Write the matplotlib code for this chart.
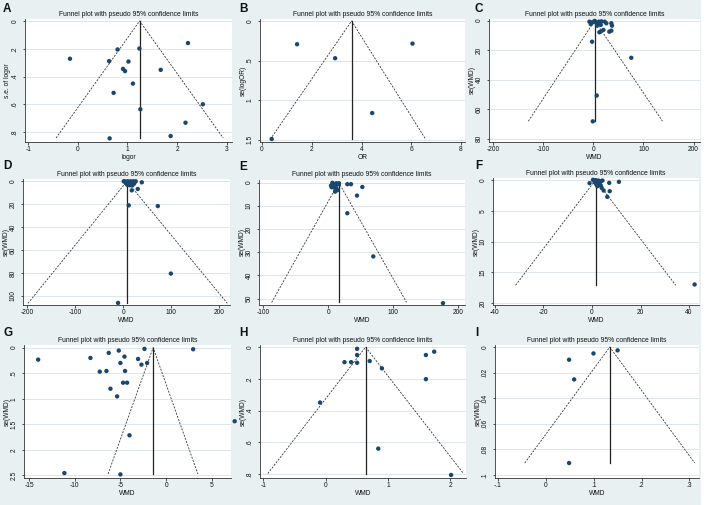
import matplotlib
matplotlib.use("Agg")
import matplotlib.pyplot as plt

plt.rcParams["font.family"] = ["Liberation Sans", "DejaVu Sans"]

W, H = 708, 505
BG = "#e8f0f2"
NAVY = "#1a476f"
GRID = "#dce6ea"

TITLE = "Funnel plot with pseudo 95% confidence limits"

# ---- data ----
a_x = [-0.16, 0.63, 0.80, 1.02, 1.24, 2.22, 0.91, 0.95, 1.67, 1.11, 0.72, 1.26, 2.52, 2.17, 1.87, 0.64]
a_se = [0.272, 0.289, 0.205, 0.292, 0.198, 0.159, 0.345, 0.361, 0.352, 0.451, 0.518, 0.636, 0.600, 0.733, 0.829, 0.846]
a_funnel = [1.245, 0.843, -0.44, 2.93]  # centre, se max, lower end, upper end

b_x = [0.39, 1.41, 2.94, 6.05, 4.43]
b_se = [1.492, 0.294, 0.471, 0.286, 1.164]
b_funnel = [3.6, 1.496, 0.334, 6.58]

c_x = [-8.0, -4.0, -1.3, 2.7, 5.3, 8.0, 10.6, 13.3, 15.9, 7.3, 14.6, 25.9, 35.8, 37.1, 13.9,
       11.9, 19.9, 31.8, 35.8, -2.7, 75.6, 6.6, -1.3, 22.6, -5.3]
c_se = [0.7, 1.8, 0.9, 0.2, 1.4, 2.3, 0.7, 1.8, 0.5, 3.4, 2.9, 1.8, 1.8, 3.4, 7.5,
        7.9, 6.3, 7.5, 6.8, 14.3, 25.2, 50.8, 68.3, 0.7, 2.3]
c_funnel = [2.6, 68.2, -130.0, 138.0]

d_x = [3.5, 7.0, 9.7, 12.5, 15.3, 18.1, 20.9, 23.7, 5.6, 11.1, 13.9, 19.5, 23.0, 39.0, 18.1,
       30.6, 11.8, 72.3, 99.5, -10.4, 1.4, 26.4, 8.3]
d_se = [0.0, 0.6, 0.0, 0.9, 0.0, 1.5, 0.0, 0.6, 1.5, 2.3, 3.5, 3.5, 2.0, 0.9, 7.9,
        6.7, 21.0, 21.6, 80.5, 106.1, 0.0, 0.0, 2.9]
d_funnel = [8.0, 106.4, -197.9, 217.0]

e_x = [6.2, 10.3, 12.3, 14.4, 16.4, 4.1, 6.2, 9.2, 12.3, 10.3, 13.8, 29.2, 34.9, 52.3, 44.1,
       29.2, 69.2, 176.4, 5.1, 15.9, 11.3]
e_se = [0.1, 0.6, 0.3, 0.7, 0.3, 1.3, 1.7, 2.2, 2.4, 3.9, 3.3, 0.7, 0.7, 1.9, 5.6,
        13.2, 31.8, 51.9, 2.0, 0.6, 1.1]
e_funnel = [16.0, 51.6, -87.2, 120.5]

f_x = [-1.0, 0.4, 1.0, 1.5, 2.1, 2.6, 3.2, 3.7, 4.3, 1.8, 2.6, 3.6, 4.0, 4.8, 7.1,
       11.1, 7.3, 6.3, 42.3, 1.2, 2.9, 2.2]
f_se = [0.54, 0.0, 0.22, 0.05, 0.32, 0.11, 0.43, 0.22, 0.11, 0.76, 0.59, 0.92, 1.30, 1.73, 0.49,
        0.32, 1.84, 2.76, 16.97, 0.43, 0.22, 1.03]
f_funnel = [1.5, 17.1, -31.5, 34.5]

g_x = [-14.0, -8.28, -6.28, -5.18, -4.56, -5.0, -2.37, -3.07, -2.08, -2.70, -7.26, -6.53, -4.49,
       -6.09, -4.27, -4.71, -5.36, -4.01, 2.96, 7.5, -11.13, -5.0]
g_se = [0.236, 0.203, 0.105, 0.059, 0.177, 0.301, 0.026, 0.223, 0.301, 0.334, 0.471, 0.458, 0.458,
        0.805, 0.687, 0.687, 0.955, 1.715, 0.033, 1.44, 2.454, 2.48]
g_funnel = [-1.42, 2.47, -6.35, 3.47]

h_x = [0.504, 0.504, 0.302, 0.408, 0.504, 0.706, 0.902, 1.607, 1.740, 1.607, -0.090, 0.843, 2.011]
h_se = [0.011, 0.050, 0.095, 0.095, 0.099, 0.088, 0.134, 0.050, 0.029, 0.202, 0.349, 0.639, 0.805]
h_funnel = [0.64, 0.796, -0.928, 2.21]

i_x = [0.0487, 0.0996, 0.150, 0.0592, 0.0487]
i_se = [0.0099, 0.0050, 0.0026, 0.0253, 0.0906]
i_funnel = [0.1336, 0.0906, -0.0439, 0.311]

xticks = {
    "A": [-1, 0, 1, 2, 3], "B": [0, 2, 4, 6, 8], "C": [-200, -100, 0, 100, 200],
    "D": [-200, -100, 0, 100, 200], "E": [-100, 0, 100, 200], "F": [-40, -20, 0, 20, 40],
    "G": [-15, -10, -5, 0, 5], "H": [-1, 0, 1, 2], "I": [-0.1, 0, 0.1, 0.2, 0.3],
}
yticks = {
    "A": [0, 0.2, 0.4, 0.6, 0.8], "B": [0, 0.5, 1, 1.5], "C": [0, 20, 40, 60, 80],
    "D": [0, 20, 40, 60, 80, 100], "E": [0, 10, 20, 30, 40, 50], "F": [0, 5, 10, 15, 20],
    "G": [0, 0.5, 1, 1.5, 2, 2.5], "H": [0, 0.2, 0.4, 0.6, 0.8],
    "I": [0, 0.02, 0.04, 0.06, 0.08, 0.1],
}
xlabels = {"A": "logor", "B": "OR"}
ylabels = {"A": "s.e. of logor", "B": "se(logOR)"}

panels = {
    "A": (a_x, a_se, a_funnel), "B": (b_x, b_se, b_funnel), "C": (c_x, c_se, c_funnel),
    "D": (d_x, d_se, d_funnel), "E": (e_x, e_se, e_funnel), "F": (f_x, f_se, f_funnel),
    "G": (g_x, g_se, g_funnel), "H": (h_x, h_se, h_funnel), "I": (i_x, i_se, i_funnel),
}

# ---- layout (pixels: left, top, right, bottom) and axis ranges ----
boxes = {
    "A": (25, 19, 232, 142), "B": (260, 19, 465, 142), "C": (489, 19, 700, 142),
    "D": (23, 179, 230, 305), "E": (259, 180, 465, 305), "F": (493, 178, 699, 305),
    "G": (24, 345, 231, 478), "H": (260, 345, 466, 478), "I": (495, 345, 699, 478),
}
xlims = {
    "A": (-1.067, 3.108), "B": (-0.08, 8.16), "C": (-208.6, 212.9), "D": (-208.3, 222.6),
    "E": (-106.7, 210.3), "F": (-40.8, 44.1), "G": (-15.55, 7.1), "H": (-1.053, 2.25),
    "I": (-0.106, 0.320),
}
ylims = {
    "A": (0.872, -0.0145), "B": (1.53, -0.025), "C": (82.3, -1.1), "D": (107.9, -2.0),
    "E": (52.7, -1.1), "F": (20.3, -0.3), "G": (2.55, -0.05), "H": (0.824, -0.013),
    "I": (0.1023, -0.0016),
}
letter_top = {"A": 3, "B": 3, "C": 3, "D": 160, "E": 161, "F": 160, "G": 327, "H": 327, "I": 327}
letter_left = {"A": 3, "B": 239, "C": 475, "D": 3, "E": 239, "F": 475, "G": 3, "H": 239, "I": 475}


def stata_fmt(v):
    s = f"{v:g}"
    s = s.replace("-0.", "-.")
    if s.startswith("0."):
        s = s[1:]
    return s


fig = plt.figure(figsize=(W / 100, H / 100), dpi=100, facecolor=BG)
fig.patches.append(plt.Rectangle((701 / W, 0), 7 / W, 1, transform=fig.transFigure,
                                 facecolor="white", edgecolor="none"))

for key, (xs, ses, fun) in panels.items():
    l, t, r, b = boxes[key]
    ax = fig.add_axes([l / W, 1 - b / H, (r - l) / W, (b - t) / H])
    ax.set_facecolor("white")
    ax.set_xlim(*xlims[key])
    ax.set_ylim(*ylims[key])

    centre, se_max, lo, hi = fun
    ax.plot([lo, centre, hi], [se_max, 0, se_max], color="#333333", lw=0.6,
            ls=(0, (2.4, 1.6)), zorder=2)
    ax.plot([centre, centre], [0, se_max], color="#222222", lw=0.9, zorder=2)
    ax.scatter(xs, ses, s=10, color=NAVY, edgecolors="none", zorder=3, clip_on=False)

    ax.set_xticks(xticks[key])
    ax.set_xticklabels([stata_fmt(v) for v in xticks[key]])
    ax.set_yticks(yticks[key])
    ax.set_yticklabels([stata_fmt(v) for v in yticks[key]], rotation=90, va="center")
    ax.grid(axis="y", color=GRID, lw=0.7)
    ax.set_axisbelow(True)

    for s in ("top", "right"):
        ax.spines[s].set_visible(False)
    for s in ("left", "bottom"):
        ax.spines[s].set_color("#333333")
        ax.spines[s].set_linewidth(0.6)
    ax.tick_params(axis="both", length=1.8, width=0.6, color="#333333", labelsize=4.8,
                   labelcolor="#111111")
    ax.tick_params(axis="x", pad=1.0)
    ax.tick_params(axis="y", pad=2.6)

    ax.set_xlabel(xlabels.get(key, "WMD"), fontsize=4.8, labelpad=0.6, color="#111111")
    ax.set_ylabel(ylabels.get(key, "se(WMD)"), fontsize=4.8, labelpad=0.4, color="#111111")

    fig.text(((l + r) / 2) / W, 1 - (t - 5) / H, TITLE, ha="center", va="center",
             fontsize=4.9, color="#111111")
    fig.text(letter_left[key] / W, 1 - letter_top[key] / H, key, ha="left", va="top",
             fontsize=8.5, fontweight="bold", color="#111111")

fig.savefig("out.png", dpi=100, facecolor=BG)
